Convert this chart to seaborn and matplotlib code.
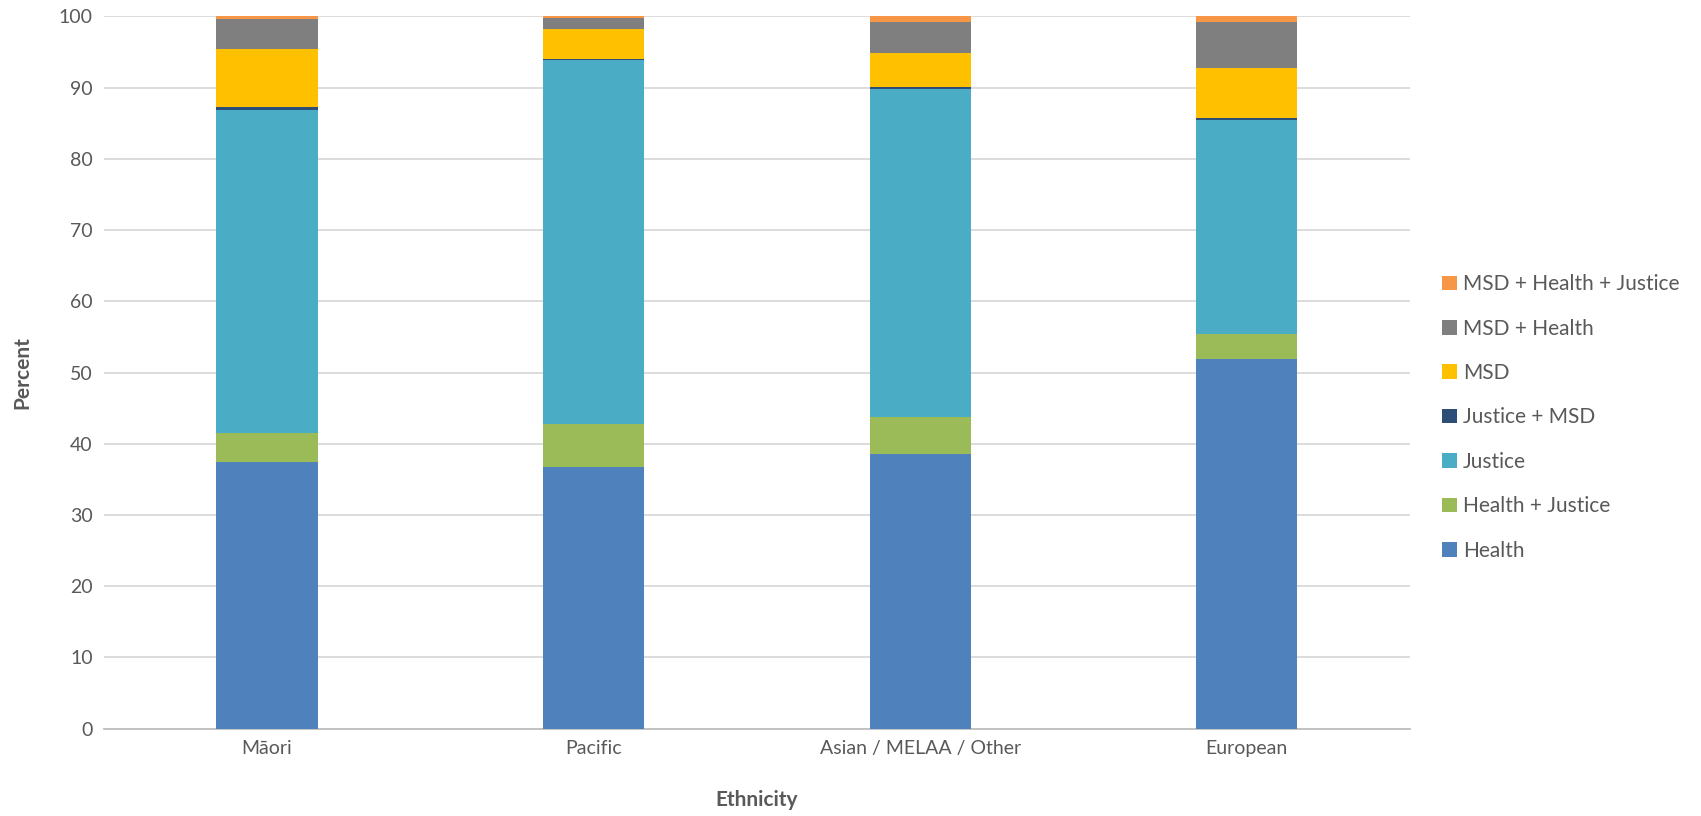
import numpy as np
import pandas as pd
import seaborn as sns
import matplotlib.pyplot as plt

# values (percent)
ethnicity = ['Māori', 'Pacific', 'Asian / MELAA / Other', 'European']
health = [37.4, 36.8, 38.5, 51.9]
health_justice = [4.1, 6.0, 5.2, 3.5]
justice = [45.4, 51.1, 46.1, 30.0]
justice_msd = [0.4, 0.1, 0.3, 0.3]
msd = [8.1, 4.2, 4.7, 7.1]
msd_health = [4.2, 1.6, 4.4, 6.4]
msd_health_justice = [0.4, 0.2, 0.8, 0.8]

groups = ['Health', 'Health + Justice', 'Justice', 'Justice + MSD',
          'MSD', 'MSD + Health', 'MSD + Health + Justice']
colours = ['#4F81BD', '#9BBB59', '#4BACC6', '#2C4D75',
           '#FFC000', '#7F7F7F', '#F79646']

df = pd.DataFrame({
    'Ethnicity': ethnicity,
    'Health': health,
    'Health + Justice': health_justice,
    'Justice': justice,
    'Justice + MSD': justice_msd,
    'MSD': msd,
    'MSD + Health': msd_health,
    'MSD + Health + Justice': msd_health_justice,
})

# cumulative heights for stacking
cum = df[groups].cumsum(axis=1)
cum['Ethnicity'] = df['Ethnicity']

sns.set_style('white')
plt.rcParams['font.family'] = ['Lato', 'DejaVu Sans']

fig = plt.figure(figsize=(17.01, 8.16), dpi=100)
ax = fig.add_axes([0.061, 0.107, 0.768, 0.873])

# draw from the top layer down so each shorter bar sits on top
for g, c in zip(groups[::-1], colours[::-1]):
    sns.barplot(data=cum, x='Ethnicity', y=g, color=c, width=0.31,
                saturation=1, label=g, ax=ax, zorder=3, linewidth=0)

ax.set_ylim(0, 100)
ax.set_xlim(-0.5, 3.5)
ax.set_yticks(range(0, 101, 10))
ax.yaxis.grid(True, color='#D9D9D9', linewidth=1.3, zorder=0)
ax.set_axisbelow(True)

for s in ['top', 'right', 'left']:
    ax.spines[s].set_visible(False)
ax.spines['bottom'].set_color('#BFBFBF')
ax.spines['bottom'].set_linewidth(1.3)

ax.set_xticks(np.arange(-0.5, 4, 1), minor=True)
ax.tick_params(axis='x', which='minor', length=7, color='#BFBFBF', width=1.3)
ax.tick_params(axis='x', which='major', length=0, labelsize=14,
               labelcolor='#595959', pad=8)
ax.tick_params(axis='y', length=0, labelsize=14, labelcolor='#595959', pad=8)

ax.set_xlabel('Ethnicity', fontsize=15, fontweight='bold', color='#595959', labelpad=24)
ax.set_ylabel('Percent', fontsize=15, fontweight='bold', color='#595959', labelpad=19)

ax.legend(loc='center left', bbox_to_anchor=(1.01, 0.437), frameon=False,
          fontsize=15, labelcolor='#595959', handlelength=0.7, handleheight=0.7,
          handletextpad=0.3, labelspacing=1.17)

plt.savefig('out.png', dpi=100)
